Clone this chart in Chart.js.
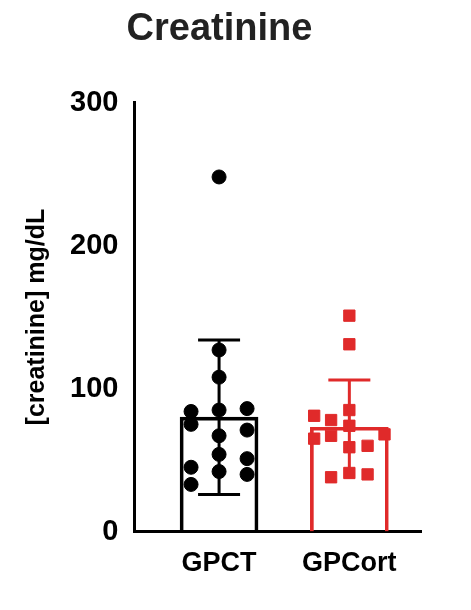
<!DOCTYPE html>
<html>
<head>
<script src="https://cdn.jsdelivr.net/npm/chart.js@4"></script>
<style>body{margin:0;background:#fff}</style>
</head>
<body>
<canvas id="c" width="471" height="610"></canvas>
<script>
const groups = ['GPCT', 'GPCort'];
const means = [80, 73];
const sds = [54, 33];
const colors = ['#000000', '#e02a2a'];
const gpctX = [0, 0, 0, -0.215, 0.215, -0.215, 0.215, 0, 0, 0.215, -0.215, 0, 0.215, -0.215, 0];
const gpctY = [248, 127, 108, 84, 86, 75, 71, 67, 54, 51, 45, 42, 40, 33, 85];
const gpcortX = [1, 1, 1, 0.73, 0.86, 1, 0.73, 0.86, 1.27, 1, 1.14, 0.86, 1, 1.14];
const gpcortY = [151, 131, 85, 81, 78, 74, 65, 67, 68, 59, 60, 38, 41, 40];

const errorBars = {
  id: 'errorBars',
  afterDatasetsDraw(chart) {
    const {ctx, scales: {x, y}} = chart;
    ctx.save();
    ctx.lineWidth = 3;
    groups.forEach((g, i) => {
      const cx = x.getPixelForValue(i);
      const top = y.getPixelForValue(means[i] + sds[i]);
      const bot = y.getPixelForValue(Math.max(0, means[i] - sds[i]));
      ctx.strokeStyle = colors[i];
      ctx.beginPath();
      ctx.moveTo(cx, top); ctx.lineTo(cx, bot);
      ctx.moveTo(cx - 21, top); ctx.lineTo(cx + 21, top);
      if (i === 0) { ctx.moveTo(cx - 21, bot); ctx.lineTo(cx + 21, bot); }
      ctx.stroke();
    });
    ctx.restore();
  }
};

const font = 'Liberation Sans';

new Chart(document.getElementById('c'), {
  data: {
    datasets: [
      {
        type: 'bar',
        data: means.map((m, i) => ({x: i, y: m})),
        backgroundColor: 'rgba(255,255,255,0)',
        borderColor: colors,
        borderWidth: 3,
        barThickness: 78,
        order: 3
      },
      {
        type: 'scatter',
        data: gpctX.map((v, i) => ({x: v, y: gpctY[i]})),
        backgroundColor: colors[0],
        borderColor: colors[0],
        pointStyle: 'circle',
        pointRadius: 7,
        order: 1
      },
      {
        type: 'scatter',
        data: gpcortX.map((v, i) => ({x: v, y: gpcortY[i]})),
        backgroundColor: colors[1],
        borderColor: colors[1],
        pointStyle: 'rect',
        pointRadius: 8,
        order: 1
      }
    ]
  },
  options: {
    responsive: false,
    animation: false,
    layout: {padding: {left: 18, right: 50, top: 5, bottom: 22}},
    plugins: {
      legend: {display: false},
      tooltip: {enabled: false},
      title: {
        display: true,
        text: 'Creatinine',
        color: '#222',
        font: {family: font, size: 38, weight: 'bold'},
        padding: {top: 2, bottom: 50}
      }
    },
    scales: {
      x: {
        type: 'linear',
        offset: false,
        min: -0.65,
        max: 1.55,
        afterBuildTicks: s => { s.ticks = [{value: 0}, {value: 1}]; },
        grid: {display: false, offset: false, drawTicks: true, tickLength: 8, tickColor: '#000', tickWidth: 3},
        border: {color: '#000', width: 3},
        ticks: {
          callback: v => groups[v],
          color: '#000',
          font: {family: font, size: 27, weight: 'bold'},
          padding: 8
        }
      },
      y: {
        min: 0,
        max: 300,
        ticks: {
          stepSize: 100,
          color: '#000',
          font: {family: font, size: 29, weight: 'bold'},
          padding: 6
        },
        grid: {display: false, drawTicks: true, tickLength: 10, tickColor: '#000', tickWidth: 3},
        border: {color: '#000', width: 3},
        title: {
          display: true,
          text: '[creatinine] mg/dL',
          color: '#000',
          font: {family: font, size: 25, weight: 'bold'},
          padding: {bottom: 12}
        }
      }
    }
  },
  plugins: [errorBars]
});
</script>
</body>
</html>
